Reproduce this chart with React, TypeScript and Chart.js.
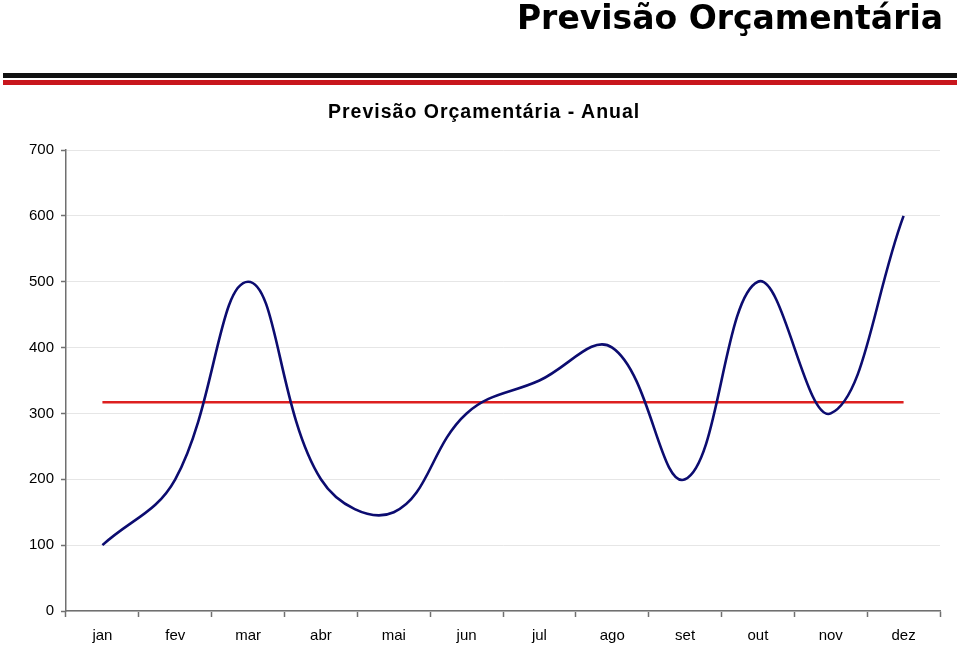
import React, { useEffect, useRef } from "react";
import { Chart, registerables } from "chart.js";

Chart.register(...registerables);

const months = ["jan", "fev", "mar", "abr", "mai", "jun", "jul", "ago", "set", "out", "nov", "dez"];
const forecast = [100, 200, 500, 200, 150, 300, 350, 400, 200, 500, 300, 600];
const average = [317, 317, 317, 317, 317, 317, 317, 317, 317, 317, 317, 317];
const yTicks = [0, 100, 200, 300, 400, 500, 600, 700];

export default function App() {
  const ref = useRef<HTMLCanvasElement | null>(null);

  useEffect(() => {
    if (!ref.current) return;
    const chart = new Chart(ref.current, {
      type: "line",
      data: {
        labels: months,
        datasets: [
          {
            label: "Previsão",
            data: forecast,
            borderColor: "#0c0c70",
            borderWidth: 2.6,
            pointRadius: 0,
            tension: 0.4,
            fill: false,
          },
          {
            label: "Média",
            data: average,
            borderColor: "#dd1f1f",
            borderWidth: 2.4,
            pointRadius: 0,
            tension: 0,
            fill: false,
          },
        ],
      },
      options: {
        animation: false,
        responsive: false,
        maintainAspectRatio: false,
        layout: { padding: { left: 0, right: 20, top: 150, bottom: 0 } },
        plugins: {
          legend: { display: false },
          tooltip: { enabled: false },
          title: { display: false },
        },
        scales: {
          x: {
            type: "category",
            offset: true,
            afterFit: (scale: any) => {
              scale.height = 34;
            },
            border: { color: "#707070", width: 1.5 },
            grid: {
              offset: true,
              drawOnChartArea: false,
              drawTicks: true,
              tickLength: 6,
              tickColor: "#707070",
              tickWidth: 1.5,
            },
            ticks: {
              color: "#000",
              font: { family: "Liberation Sans", size: 15 },
              padding: 10,
              maxRotation: 0,
              autoSkip: false,
            },
          },
          y: {
            min: 0,
            max: 700,
            afterBuildTicks: (scale: any) => {
              scale.ticks = yTicks.map((v) => ({ value: v }));
            },
            afterFit: (scale: any) => {
              scale.width = 66;
            },
            border: { color: "#707070", width: 1.5 },
            grid: {
              color: "#e6e6e6",
              lineWidth: 1,
              drawTicks: true,
              tickLength: 5,
              tickColor: "#707070",
              tickWidth: 1.5,
            },
            ticks: {
              color: "#000",
              font: { family: "Liberation Sans", size: 15 },
              padding: 7,
            },
          },
        },
      },
    });
    return () => chart.destroy();
  }, []);

  return (
    <div
      style={{
        position: "fixed",
        left: 0,
        top: 0,
        width: 960,
        height: 645,
        background: "#fff",
        overflow: "hidden",
      }}
    >
      <canvas
        ref={ref}
        width={960}
        height={645}
        style={{ position: "absolute", left: 0, top: 0, width: 960, height: 645 }}
      />
      <div
        style={{
          position: "absolute",
          right: 17,
          top: -2,
          fontFamily: "DejaVu Sans",
          fontWeight: "bold",
          fontSize: 33,
          lineHeight: "normal",
          color: "#000",
          whiteSpace: "nowrap",
        }}
      >
        Previsão Orçamentária
      </div>
      <div style={{ position: "absolute", left: 3, top: 73, width: 954, height: 5, background: "#111" }} />
      <div style={{ position: "absolute", left: 3, top: 80, width: 954, height: 5, background: "#c8161d" }} />
      <div
        style={{
          position: "absolute",
          left: 328,
          top: 100,
          fontFamily: "Liberation Sans",
          fontWeight: "bold",
          fontSize: 19.5,
          letterSpacing: 1,
          lineHeight: "normal",
          color: "#000",
          whiteSpace: "nowrap",
        }}
      >
        Previsão Orçamentária - Anual
      </div>
    </div>
  );
}
